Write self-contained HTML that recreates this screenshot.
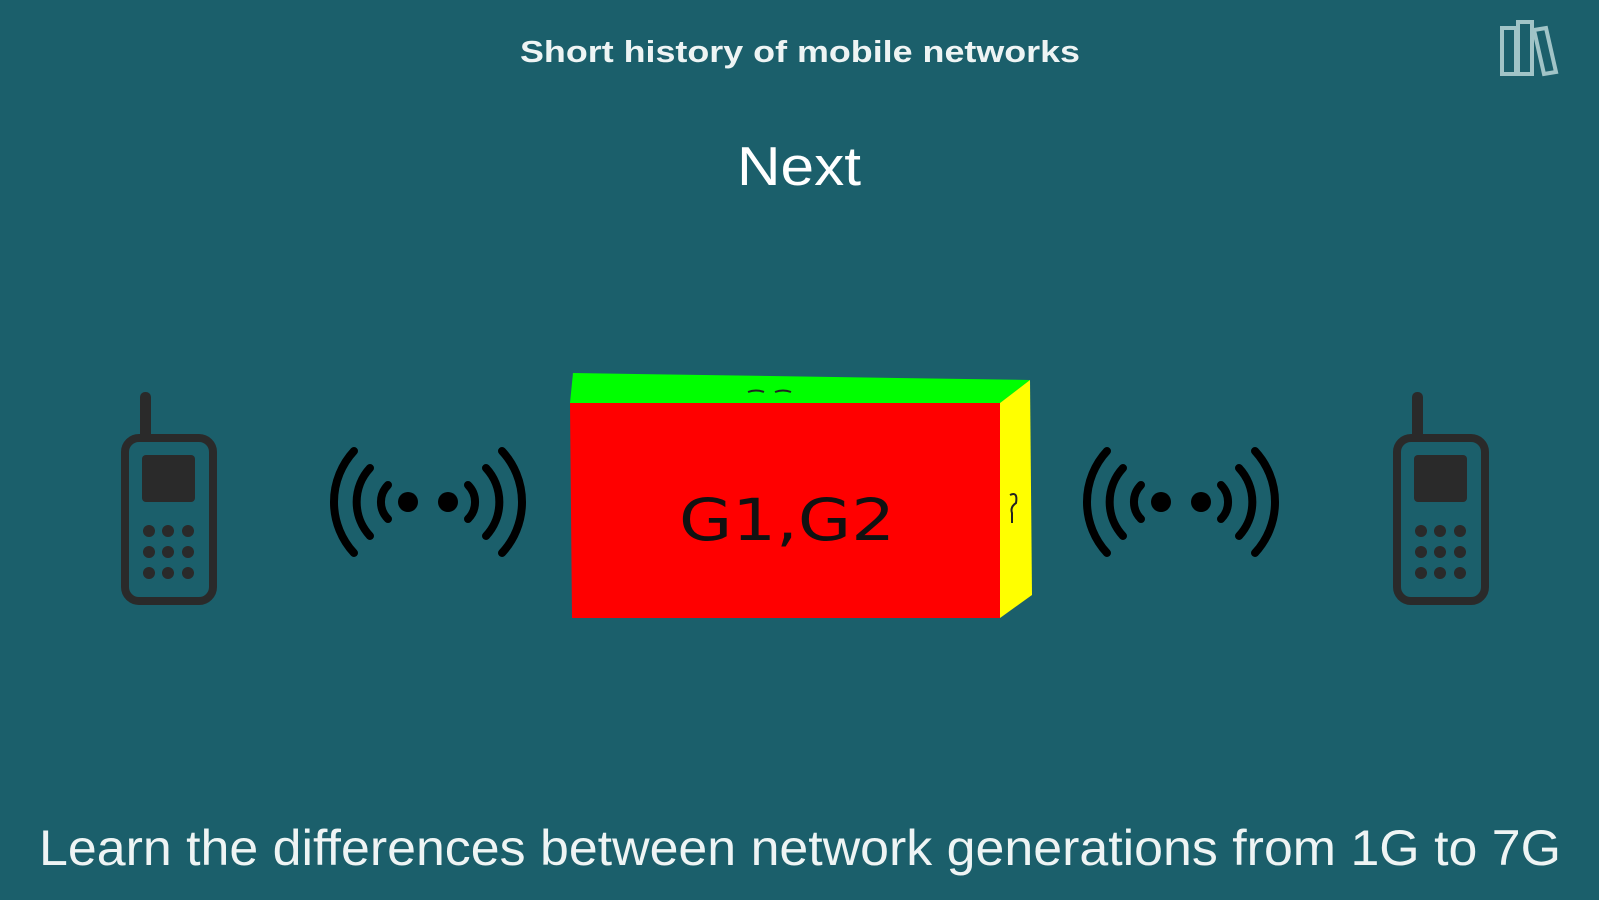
<!DOCTYPE html>
<html><head><meta charset="utf-8"><style>
html,body{margin:0;padding:0;background:#1b5f6b;}
svg{display:block}
</style></head><body>
<svg width="1599" height="900" viewBox="0 0 1599 900" xmlns="http://www.w3.org/2000/svg">
<rect width="1599" height="900" fill="#1b5f6b"/>
<text x="800" y="62" text-anchor="middle" font-family="Liberation Sans, sans-serif" font-weight="bold" font-size="31" fill="#eef4f4" textLength="560" lengthAdjust="spacingAndGlyphs">Short history of mobile networks</text>
<text x="799" y="185" text-anchor="middle" font-family="Liberation Sans, sans-serif" font-size="55" fill="#ffffff" textLength="124" lengthAdjust="spacingAndGlyphs">Next</text>
<text x="800" y="865" text-anchor="middle" font-family="Liberation Sans, sans-serif" font-size="50" fill="#eef4f4" textLength="1522" lengthAdjust="spacingAndGlyphs">Learn the differences between network generations from 1G to 7G</text>
<g fill="none" stroke="#b9d6d8" stroke-width="4" opacity="0.85">
<rect x="1502" y="28" width="14" height="46"/>
<rect x="1518" y="22" width="14" height="52"/>
<path d="M1534 30 L1546 28 L1556 72 L1544 74 Z"/>
</g>
<polygon points="573,373 1030,380 1000,403 570,403" fill="#00ff00"/>
<polygon points="1000,403 1030,380 1032,595 1000,618" fill="#ffff00"/>
<polygon points="570,403 1000,403 1000,618 572,618" fill="#ff0000"/>
<path d="M748 392 q8 -3 16 0 M775 392 q8 -3 16 0" stroke="#222" stroke-width="2" fill="none"/>
<text x="787" y="540" text-anchor="middle" font-family="DejaVu Sans, sans-serif" font-size="58" fill="#111" textLength="216" lengthAdjust="spacingAndGlyphs">G1,G2</text>
<path d="M1010 495 q8 -4 6 8 q-6 4 -4 10 l0 10" stroke="#222" stroke-width="2" fill="none"/>
<g id="phone" fill="#2a2a2a">
<rect x="140" y="392" width="11" height="50" rx="5"/>
<rect x="125" y="438" width="88" height="163" rx="14" fill="none" stroke="#2a2a2a" stroke-width="8"/>
<rect x="142" y="455" width="53" height="47" rx="4"/>
<circle cx="149" cy="531" r="6"/><circle cx="168" cy="531" r="6"/><circle cx="188" cy="531" r="6"/>
<circle cx="149" cy="552" r="6"/><circle cx="168" cy="552" r="6"/><circle cx="188" cy="552" r="6"/>
<circle cx="149" cy="573" r="6"/><circle cx="168" cy="573" r="6"/><circle cx="188" cy="573" r="6"/>
</g>
<use href="#phone" transform="translate(1272,0)"/>
<g id="sig" fill="none" stroke="#000" stroke-width="8" stroke-linecap="round">
<circle cx="408" cy="502" r="10" fill="#000" stroke="none"/>
<circle cx="448" cy="502" r="10" fill="#000" stroke="none"/>
<path d="M388 485 A24 24 0 0 0 388 519"/>
<path d="M468 485 A24 24 0 0 1 468 519"/>
<path d="M370 468 A50 50 0 0 0 370 536"/>
<path d="M486 468 A50 50 0 0 1 486 536"/>
<path d="M354 451 A75 75 0 0 0 354 553"/>
<path d="M502 451 A75 75 0 0 1 502 553"/>
</g>
<use href="#sig" transform="translate(753,0)"/>
</svg>
</body></html>
